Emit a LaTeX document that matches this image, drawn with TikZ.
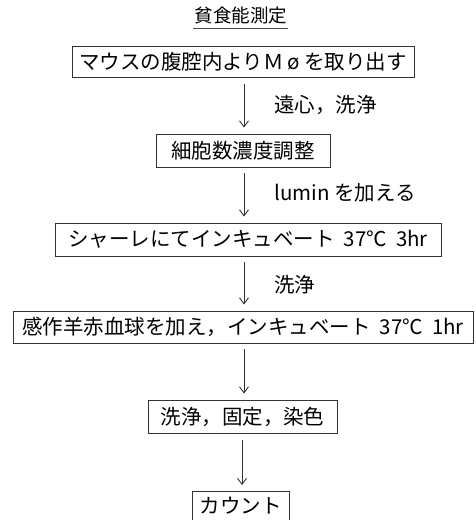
\documentclass[tikz,border=0pt]{standalone}
\usepackage{fontspec}
\setmainfont{Noto Sans CJK JP}
\usetikzlibrary{arrows.meta}
\begin{document}
\begin{tikzpicture}[x=1pt,y=-1pt,
  stepbox/.style={draw=black!80,line width=0.9pt,inner sep=0pt,font=\fontsize{20.5}{23}\selectfont},
  lbl/.style={anchor=west,inner sep=0pt,font=\fontsize{20.5}{23}\selectfont},
  arr/.style={draw=black!80,line width=0.9pt,-{Straight Barb[length=6pt,width=9pt]}}]
\useasboundingbox (0,0) rectangle (475,520);
\clip (0,0) rectangle (475,520);
\node[inner sep=0pt,font=\fontsize{18.5}{21}\selectfont] (title) at (241,16) {貧食能測定};
\draw[black!70,line width=0.7pt] (193,28) -- (288,28);
\node[stepbox,minimum width=342,minimum height=31] (b1) at (243,61.5) {マウスの腹腔内よりＭ\,ø を取り出す};
\node[stepbox,minimum width=174,minimum height=33] (b2) at (243,150.5) {細胞数濃度調整};
\node[stepbox,minimum width=386,minimum height=33] (b3) at (248,239.5) {シャーレにてインキュベート\ \ 37℃\ \ 3hr};
\node[stepbox,minimum width=460,minimum height=32] (b4) at (243,327) {感作羊赤血球を加え，インキュベート\ \ 37℃\ \ 1hr};
\node[stepbox,minimum width=189,minimum height=33] (b5) at (242.5,416.5) {洗浄，固定，染色};
\node[stepbox,minimum width=97,minimum height=38,anchor=north] (b6) at (240.5,491) {};
\node[inner sep=0pt,font=\fontsize{20.5}{23}\selectfont] (t6) at (240.5,506) {カウント};
\coordinate (ax) at (244,0);
\draw[arr,shorten <=7pt,shorten >=6pt] (b1.south -| ax) -- (b2.north -| ax);
\draw[arr,shorten <=6pt,shorten >=6pt] (b2.south -| ax) -- (b3.north -| ax);
\draw[arr,shorten <=6pt,shorten >=6pt] (b3.south -| ax) -- (b4.north -| ax);
\draw[arr,shorten <=6pt,shorten >=6pt] (b4.south -| ax) -- (b5.north -| ax);
\coordinate (ax2) at (242,0);
\draw[arr,shorten <=7pt,shorten >=6pt] (b5.south -| ax2) -- (b6.north -| ax2);
\node[lbl] (l1) at (274,105) {遠心，洗浄};
\node[lbl] (l2) at (274,193) {lumin を加える};
\node[lbl] (l3) at (274,285) {洗浄};
\end{tikzpicture}
\end{document}
